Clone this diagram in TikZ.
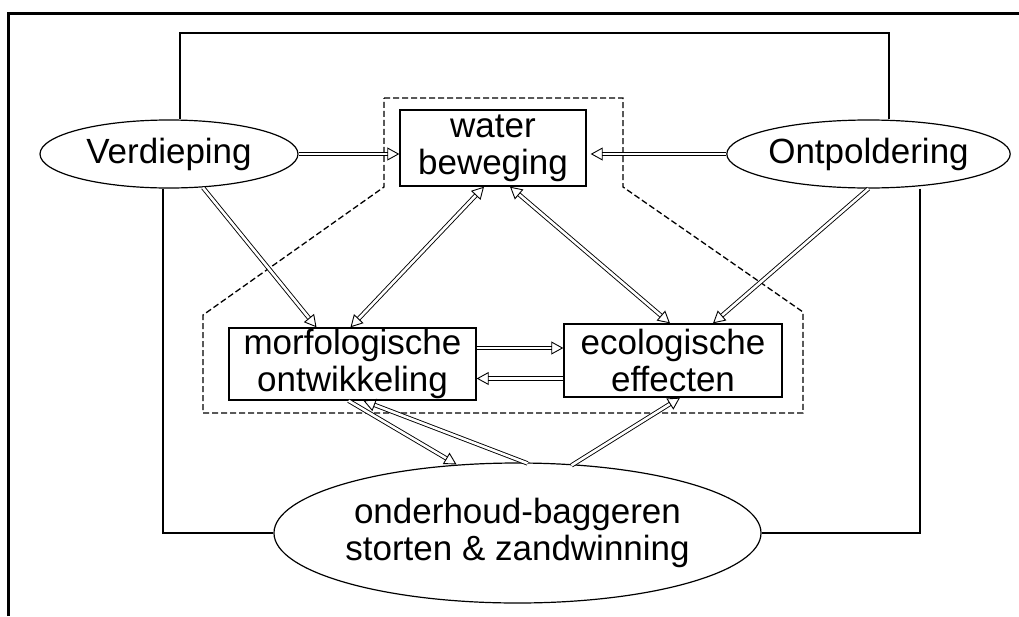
\documentclass[tikz,border=0pt]{standalone}
\usepackage{fontspec}
\setmainfont{Liberation Sans}
\usetikzlibrary{shapes.geometric,arrows.meta}

\begin{document}
\begin{tikzpicture}[x=1pt,y=-1pt,
  every node/.style={font=\fontsize{35}{37}\selectfont, align=center, inner sep=0pt},
  oval/.style={draw, line width=1.2pt, ellipse},
  blok/.style={draw, line width=1.4pt, rectangle},
  link/.style={line width=1.1pt},
  zone/.style={line width=1.3pt, dash pattern=on 6pt off 3pt},
  tip/.style={Triangle[open, length=12pt, width=13pt, line width=0.9pt]},
  dbl/.style={double, double distance=2.6pt, line width=0.9pt, -{Triangle[open, length=12pt, width=13pt, line width=0.9pt]}},
  dbl2/.style={double, double distance=2.6pt, line width=0.9pt,
    {Triangle[open, length=12pt, width=13pt, line width=0.9pt]}-{Triangle[open, length=12pt, width=13pt, line width=0.9pt]}}
]
\useasboundingbox (0,0) rectangle (1019,616);

% page frame
\draw[line width=3pt] (8.5,616) -- (8.5,13.5) -- (1019,13.5);

% nodes
\node[oval, minimum width=258pt, minimum height=68pt] (V) at (169,154) {Verdieping};
\node[oval, minimum width=257pt, minimum height=68pt] (O) at (868.5,154) {Ontpoldering};
\node[blok, minimum width=186pt, minimum height=76pt] (W) at (493,148) {water\\beweging};
\node[blok, minimum width=247pt, minimum height=72pt] (M) at (352.5,364) {morfologische\\ontwikkeling};
\node[blok, minimum width=218pt, minimum height=73pt] (E) at (673,360.5) {ecologische\\effecten};
\node[oval, minimum width=389pt, minimum height=140pt] (D) at (517.5,533) {onderhoud-baggeren\\storten \& zandwinning};

% dashed system boundary
\draw[zone] (384,98) -- (623,98) -- (623,187) -- (803,312) -- (803,413)
  -- (203,413) -- (203,315) -- (384,187) -- cycle;

% thin feedback lines around the system
\coordinate (tl) at (180,33);
\draw[link] ([xshift=11pt]V.north) |- (tl) -| ([xshift=20.5pt]O.north);
\draw[link] ([xshift=-6pt]V.south) |- (D.west);
\draw[link] ([xshift=51.5pt]O.south) |- (D.east);

% interactions
\draw[dbl] (V.east) -- (V.east -| W.west);
\draw[dbl, shorten >=4pt] (O.west) -- (O.west -| W.east);
\draw[dbl] ([xshift=34pt, yshift=1pt]V.south) -- ([xshift=-36pt]M.north);
\draw[dbl2] ([xshift=-9pt]W.south) -- ([xshift=-2pt]M.north);
\draw[dbl2] ([xshift=17pt]W.south) -- ([xshift=-3pt]E.north);
\draw[dbl] (O.south) -- ([xshift=40pt]E.north);
\draw[dbl] ([yshift=16pt]M.east) -- ([yshift=16pt]M.east -| E.west);
\draw[dbl] ([yshift=-18pt]E.west) -- ([yshift=-18pt]E.west -| M.east);
\draw[dbl] ([xshift=-4pt]M.south) -- ([xshift=-61pt, yshift=-2pt]D.north);
\draw[dbl] ([xshift=10pt, yshift=-1pt]D.north) -- ([xshift=11pt]M.south);
\draw[dbl] ([xshift=54pt, yshift=-3pt]D.north) -- ([xshift=7pt]E.south);
\end{tikzpicture}
\end{document}
